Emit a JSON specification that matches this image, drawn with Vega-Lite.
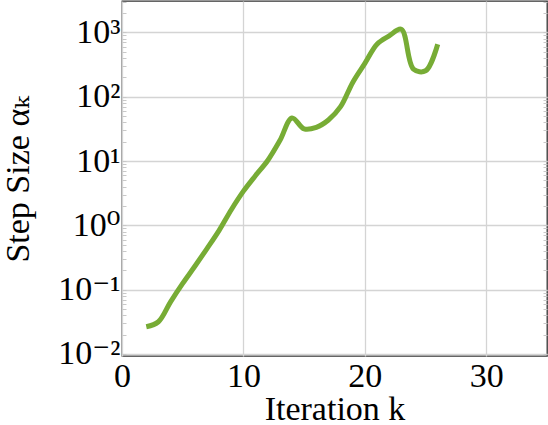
{
  "$schema": "https://vega.github.io/schema/vega-lite/v6.json",
  "width": 425,
  "height": 355,
  "autosize": {"type": "none"},
  "padding": {"left": 122, "top": 1, "right": 1, "bottom": 69},
  "background": "white",
  "config": {
    "view": {"stroke": "#333333", "strokeWidth": 1.3},
    "axis": {
      "labelFont": "'Liberation Serif', 'DejaVu Serif', serif",
      "titleFont": "'Liberation Serif', 'DejaVu Serif', serif",
      "labelFontSize": 34,
      "titleFontSize": 34,
      "labelColor": "#000000",
      "titleColor": "#000000",
      "titleFontWeight": "normal",
      "domain": false
    }
  },
  "data": {
    "values": [
      {"k": 2, "alpha": 0.0265},
      {"k": 3, "alpha": 0.0317},
      {"k": 4, "alpha": 0.0647},
      {"k": 5, "alpha": 0.125},
      {"k": 6, "alpha": 0.231},
      {"k": 7, "alpha": 0.435},
      {"k": 8, "alpha": 0.836},
      {"k": 9, "alpha": 1.75},
      {"k": 10, "alpha": 3.4},
      {"k": 11, "alpha": 5.96},
      {"k": 12, "alpha": 10.2},
      {"k": 13, "alpha": 20.8},
      {"k": 14, "alpha": 46.8},
      {"k": 15, "alpha": 31.6},
      {"k": 16, "alpha": 33.4},
      {"k": 17, "alpha": 43.5},
      {"k": 18, "alpha": 70},
      {"k": 19, "alpha": 167},
      {"k": 20, "alpha": 330},
      {"k": 21, "alpha": 656},
      {"k": 22, "alpha": 883},
      {"k": 23, "alpha": 1120},
      {"k": 24, "alpha": 269},
      {"k": 25, "alpha": 253},
      {"k": 26, "alpha": 656}
    ]
  },
  "layer": [
    {
      "mark": {"type": "line", "color": "#77ac35", "strokeWidth": 5, "interpolate": "catmull-rom", "strokeCap": "butt"},
      "encoding": {
        "x": {
          "field": "k", "type": "quantitative",
          "scale": {"domain": [0, 35], "nice": false, "zero": false},
          "axis": {
            "values": [0, 10, 20, 30],
            "format": "d",
            "grid": true, "gridColor": "#d4d4d4", "gridWidth": 1.3,
            "ticks": false,
            "labelFlush": false,
            "labelPadding": 3,
            "title": "Iteration k",
            "titleY": 63, "titleBaseline": "alphabetic"
          }
        },
        "y": {
          "field": "alpha", "type": "quantitative",
          "scale": {"type": "log", "domain": [0.0093, 3080], "nice": false},
          "axis": {
            "orient": "left",
            "values": [0.01,0.02,0.03,0.04,0.05,0.06,0.07,0.08,0.09,0.1,0.2,0.3,0.4,0.5,0.6,0.7,0.8,0.9,1,2,3,4,5,6,7,8,9,10,20,30,40,50,60,70,80,90,100,200,300,400,500,600,700,800,900,1000,2000,3000],
            "labelExpr": "datum.value == 1000 ? '10³' : datum.value == 100 ? '10²' : datum.value == 10 ? '10¹' : datum.value == 1 ? '10⁰' : datum.value == 0.1 ? '10⁻¹' : datum.value == 0.01 ? '10⁻²' : ''",
            "labelOverlap": false,
            "labelBound": false,
            "labelFlush": false,
            "grid": true,
            "gridColor": "#d4d4d4",
            "gridWidth": 1.3,
            "gridOpacity": {"condition": {"test": "abs(log(datum.value)/LN10 - round(log(datum.value)/LN10)) < 0.000001", "value": 1}, "value": 0},
            "tickColor": "#c8c8c8",
            "tickSize": -4,
            "tickWidth": 1,
            "labelPadding": 6,
            "title": "Step Size αₖ",
            "titleX": -94, "titleY": 178, "titleBaseline": "alphabetic", "titleAngle": 270
          }
        }
      }
    },
    {
      "mark": {"type": "line", "opacity": 0},
      "encoding": {
        "x": {"field": "k", "type": "quantitative"},
        "y": {
          "field": "alpha", "type": "quantitative",
          "axis": {
            "orient": "right",
            "values": [0.01,0.02,0.03,0.04,0.05,0.06,0.07,0.08,0.09,0.1,0.2,0.3,0.4,0.5,0.6,0.7,0.8,0.9,1,2,3,4,5,6,7,8,9,10,20,30,40,50,60,70,80,90,100,200,300,400,500,600,700,800,900,1000,2000,3000],
            "labels": false,
            "grid": false,
            "title": null,
            "tickColor": "#c8c8c8",
            "tickSize": -4,
            "tickWidth": 1
          }
        }
      }
    }
  ],
  "resolve": {"axis": {"y": "independent"}}
}
